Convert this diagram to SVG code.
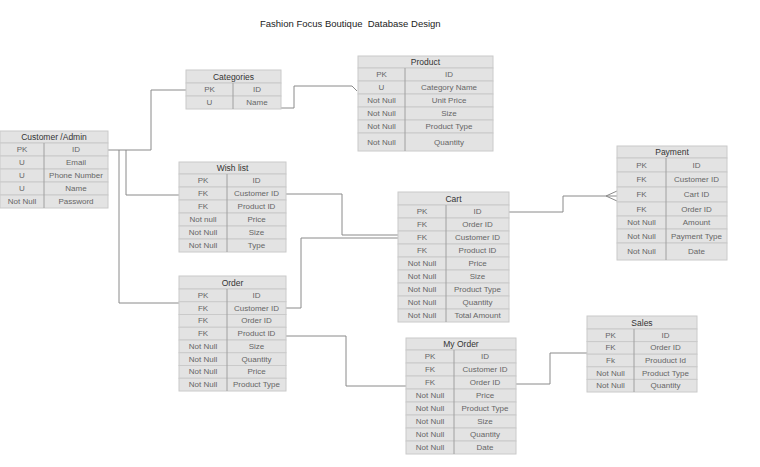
<svg xmlns="http://www.w3.org/2000/svg" width="760" height="467" viewBox="0 0 760 467">
<style>
.bg{fill:#e3e3e3;stroke:#cacaca;stroke-width:1}
.hd{fill:#e3e3e3;stroke:#cacaca;stroke-width:1}
.div{stroke:#a0a0a0;stroke-width:1}
.t{font-family:"Liberation Sans",Arial,sans-serif;font-size:8px;fill:#666;text-anchor:middle;dominant-baseline:central}
.h{font-family:"Liberation Sans",Arial,sans-serif;font-size:8.5px;fill:#333;text-anchor:middle;dominant-baseline:central}
.ttl{font-family:"Liberation Sans",Arial,sans-serif;font-size:9.5px;fill:#222;white-space:pre}
.c{fill:none;stroke:#8a8a8a;stroke-width:1}
</style>
<rect width="760" height="467" fill="#fff"/>
<text class="ttl" x="260" y="27" xml:space="preserve">Fashion Focus Boutique  Database Design</text>

<g id="connectors">
<path class="c" d="M108,150 H151 V90 H186"/>
<path class="c" d="M119,150 V303 H179"/>
<path class="c" d="M126,150 V195 H179"/>
<path class="c" d="M281,108 H294 V86 H352 L357,91"/>
<path class="c" d="M286,194 H342 V235 H398"/>
<path class="c" d="M286,308 H301 V238 H398"/>
<path class="c" d="M286,336 H346 V386 H406"/>
<path class="c" d="M516,384 H550 V353 H587"/>
<path class="c" d="M509,212 H563 V196 H617 M606,196 L617,191 M606,196 L617,201"/>
</g>

<g id="customer">
<rect class="hd" x="0" y="131" width="108" height="12"/>
<text class="h" x="54" y="137">Customer /Admin</text>
<rect class="bg" x="0" y="143" width="108" height="13"/>
<rect class="bg" x="0" y="156" width="108" height="13"/>
<rect class="bg" x="0" y="169" width="108" height="13"/>
<rect class="bg" x="0" y="182" width="108" height="13"/>
<rect class="bg" x="0" y="195" width="108" height="13"/>
<line class="div" x1="44" y1="143" x2="44" y2="208"/>
<text class="t" x="22" y="149.5">PK</text><text class="t" x="76" y="149.5">ID</text>
<text class="t" x="22" y="162.5">U</text><text class="t" x="76" y="162.5">Email</text>
<text class="t" x="22" y="175.5">U</text><text class="t" x="76" y="175.5">Phone Number</text>
<text class="t" x="22" y="188.5">U</text><text class="t" x="76" y="188.5">Name</text>
<text class="t" x="22" y="201.5">Not Null</text><text class="t" x="76" y="201.5">Password</text>
</g>

<g id="categories">
<rect class="hd" x="186" y="70" width="95" height="13"/>
<text class="h" x="233.5" y="76.5">Categories</text>
<rect class="bg" x="186" y="83" width="95" height="13"/>
<rect class="bg" x="186" y="96" width="95" height="13"/>
<line class="div" x1="233" y1="83" x2="233" y2="109"/>
<text class="t" x="209.5" y="89.5">PK</text><text class="t" x="257" y="89.5">ID</text>
<text class="t" x="209.5" y="102.5">U</text><text class="t" x="257" y="102.5">Name</text>
</g>

<g id="product">
<rect class="hd" x="358" y="56" width="135" height="12"/>
<text class="h" x="425.5" y="62">Product</text>
<rect class="bg" x="358" y="68" width="135" height="13"/>
<rect class="bg" x="358" y="81" width="135" height="13"/>
<rect class="bg" x="358" y="94" width="135" height="13"/>
<rect class="bg" x="358" y="107" width="135" height="13"/>
<rect class="bg" x="358" y="120" width="135" height="13"/>
<rect class="bg" x="358" y="133" width="135" height="18"/>
<line class="div" x1="405" y1="68" x2="405" y2="151"/>
<text class="t" x="381.5" y="74.5">PK</text><text class="t" x="449" y="74.5">ID</text>
<text class="t" x="381.5" y="87.5">U</text><text class="t" x="449" y="87.5">Category Name</text>
<text class="t" x="381.5" y="100.5">Not Null</text><text class="t" x="449" y="100.5">Unit Price</text>
<text class="t" x="381.5" y="113.5">Not Null</text><text class="t" x="449" y="113.5">Size</text>
<text class="t" x="381.5" y="126.5">Not Null</text><text class="t" x="449" y="126.5">Product Type</text>
<text class="t" x="381.5" y="142">Not Null</text><text class="t" x="449" y="142">Quantity</text>
</g>

<g id="wishlist">
<rect class="hd" x="179" y="162" width="107" height="12"/>
<text class="h" x="232.5" y="168">Wish list</text>
<rect class="bg" x="179" y="174" width="107" height="13"/>
<rect class="bg" x="179" y="187" width="107" height="13"/>
<rect class="bg" x="179" y="200" width="107" height="13"/>
<rect class="bg" x="179" y="213" width="107" height="13"/>
<rect class="bg" x="179" y="226" width="107" height="13"/>
<rect class="bg" x="179" y="239" width="107" height="13"/>
<line class="div" x1="227" y1="174" x2="227" y2="252"/>
<text class="t" x="203" y="180.5">PK</text><text class="t" x="256.5" y="180.5">ID</text>
<text class="t" x="203" y="193.5">FK</text><text class="t" x="256.5" y="193.5">Customer ID</text>
<text class="t" x="203" y="206.5">FK</text><text class="t" x="256.5" y="206.5">Product ID</text>
<text class="t" x="203" y="219.5">Not null</text><text class="t" x="256.5" y="219.5">Price</text>
<text class="t" x="203" y="232.5">Not Null</text><text class="t" x="256.5" y="232.5">Size</text>
<text class="t" x="203" y="245.5">Not Null</text><text class="t" x="256.5" y="245.5">Type</text>
</g>

<g id="cart">
<rect class="hd" x="398" y="192" width="111" height="13"/>
<text class="h" x="453.5" y="198.5">Cart</text>
<rect class="bg" x="398" y="205" width="111" height="13"/>
<rect class="bg" x="398" y="218" width="111" height="13"/>
<rect class="bg" x="398" y="231" width="111" height="13"/>
<rect class="bg" x="398" y="244" width="111" height="13"/>
<rect class="bg" x="398" y="257" width="111" height="13"/>
<rect class="bg" x="398" y="270" width="111" height="13"/>
<rect class="bg" x="398" y="283" width="111" height="13"/>
<rect class="bg" x="398" y="296" width="111" height="13"/>
<rect class="bg" x="398" y="309" width="111" height="13"/>
<line class="div" x1="446" y1="205" x2="446" y2="322"/>
<text class="t" x="422" y="211.5">PK</text><text class="t" x="477.5" y="211.5">ID</text>
<text class="t" x="422" y="224.5">FK</text><text class="t" x="477.5" y="224.5">Order ID</text>
<text class="t" x="422" y="237.5">FK</text><text class="t" x="477.5" y="237.5">Customer ID</text>
<text class="t" x="422" y="250.5">FK</text><text class="t" x="477.5" y="250.5">Product ID</text>
<text class="t" x="422" y="263.5">Not Null</text><text class="t" x="477.5" y="263.5">Price</text>
<text class="t" x="422" y="276.5">Not Null</text><text class="t" x="477.5" y="276.5">Size</text>
<text class="t" x="422" y="289.5">Not Null</text><text class="t" x="477.5" y="289.5">Product Type</text>
<text class="t" x="422" y="302.5">Not Null</text><text class="t" x="477.5" y="302.5">Quantity</text>
<text class="t" x="422" y="315.5">Not Null</text><text class="t" x="477.5" y="315.5">Total Amount</text>
</g>

<g id="payment">
<rect class="hd" x="617" y="146" width="110" height="12"/>
<text class="h" x="672" y="152">Payment</text>
<rect class="bg" x="617" y="158" width="110" height="14"/>
<rect class="bg" x="617" y="172" width="110" height="15"/>
<rect class="bg" x="617" y="187" width="110" height="15"/>
<rect class="bg" x="617" y="202" width="110" height="14"/>
<rect class="bg" x="617" y="216" width="110" height="13"/>
<rect class="bg" x="617" y="229" width="110" height="14"/>
<rect class="bg" x="617" y="243" width="110" height="17"/>
<line class="div" x1="666" y1="158" x2="666" y2="260"/>
<text class="t" x="641.5" y="165">PK</text><text class="t" x="696.5" y="165">ID</text>
<text class="t" x="641.5" y="179.5">FK</text><text class="t" x="696.5" y="179.5">Customer ID</text>
<text class="t" x="641.5" y="194.5">FK</text><text class="t" x="696.5" y="194.5">Cart ID</text>
<text class="t" x="641.5" y="209">FK</text><text class="t" x="696.5" y="209">Order ID</text>
<text class="t" x="641.5" y="222.5">Not Null</text><text class="t" x="696.5" y="222.5">Amount</text>
<text class="t" x="641.5" y="236">Not Null</text><text class="t" x="696.5" y="236">Payment Type</text>
<text class="t" x="641.5" y="251.5">Not Null</text><text class="t" x="696.5" y="251.5">Date</text>
</g>

<g id="order">
<rect class="hd" x="179" y="276" width="107" height="13"/>
<text class="h" x="232.5" y="282.5">Order</text>
<rect class="bg" x="179" y="289" width="107" height="12.75"/>
<rect class="bg" x="179" y="301.75" width="107" height="12.75"/>
<rect class="bg" x="179" y="314.5" width="107" height="12.75"/>
<rect class="bg" x="179" y="327.25" width="107" height="12.75"/>
<rect class="bg" x="179" y="340" width="107" height="12.75"/>
<rect class="bg" x="179" y="352.75" width="107" height="12.75"/>
<rect class="bg" x="179" y="365.5" width="107" height="12.75"/>
<rect class="bg" x="179" y="378.25" width="107" height="12.75"/>
<line class="div" x1="227" y1="289" x2="227" y2="391"/>
<text class="t" x="203" y="295.4">PK</text><text class="t" x="256.5" y="295.4">ID</text>
<text class="t" x="203" y="308.1">FK</text><text class="t" x="256.5" y="308.1">Customer ID</text>
<text class="t" x="203" y="320.9">FK</text><text class="t" x="256.5" y="320.9">Order ID</text>
<text class="t" x="203" y="333.6">FK</text><text class="t" x="256.5" y="333.6">Product ID</text>
<text class="t" x="203" y="346.4">Not Null</text><text class="t" x="256.5" y="346.4">Size</text>
<text class="t" x="203" y="359.1">Not Null</text><text class="t" x="256.5" y="359.1">Quantity</text>
<text class="t" x="203" y="371.9">Not Null</text><text class="t" x="256.5" y="371.9">Price</text>
<text class="t" x="203" y="384.6">Not Null</text><text class="t" x="256.5" y="384.6">Product Type</text>
</g>

<g id="myorder">
<rect class="hd" x="406" y="338" width="110" height="12"/>
<text class="h" x="461" y="344">My Order</text>
<rect class="bg" x="406" y="350" width="110" height="13"/>
<rect class="bg" x="406" y="363" width="110" height="13"/>
<rect class="bg" x="406" y="376" width="110" height="13"/>
<rect class="bg" x="406" y="389" width="110" height="13"/>
<rect class="bg" x="406" y="402" width="110" height="13"/>
<rect class="bg" x="406" y="415" width="110" height="13"/>
<rect class="bg" x="406" y="428" width="110" height="13"/>
<rect class="bg" x="406" y="441" width="110" height="13"/>
<line class="div" x1="454" y1="350" x2="454" y2="454"/>
<text class="t" x="430" y="356.5">PK</text><text class="t" x="485" y="356.5">ID</text>
<text class="t" x="430" y="369.5">FK</text><text class="t" x="485" y="369.5">Customer ID</text>
<text class="t" x="430" y="382.5">FK</text><text class="t" x="485" y="382.5">Order ID</text>
<text class="t" x="430" y="395.5">Not Null</text><text class="t" x="485" y="395.5">Price</text>
<text class="t" x="430" y="408.5">Not Null</text><text class="t" x="485" y="408.5">Product Type</text>
<text class="t" x="430" y="421.5">Not Null</text><text class="t" x="485" y="421.5">Size</text>
<text class="t" x="430" y="434.5">Not Null</text><text class="t" x="485" y="434.5">Quantity</text>
<text class="t" x="430" y="447.5">Not Null</text><text class="t" x="485" y="447.5">Date</text>
</g>

<g id="sales">
<rect class="hd" x="587" y="316" width="110" height="13"/>
<text class="h" x="642" y="322.5">Sales</text>
<rect class="bg" x="587" y="329" width="110" height="12.6"/>
<rect class="bg" x="587" y="341.6" width="110" height="12.6"/>
<rect class="bg" x="587" y="354.2" width="110" height="12.6"/>
<rect class="bg" x="587" y="366.8" width="110" height="12.6"/>
<rect class="bg" x="587" y="379.4" width="110" height="12.6"/>
<line class="div" x1="634" y1="329" x2="634" y2="392"/>
<text class="t" x="610.5" y="335.3">PK</text><text class="t" x="665.5" y="335.3">ID</text>
<text class="t" x="610.5" y="347.9">FK</text><text class="t" x="665.5" y="347.9">Order ID</text>
<text class="t" x="610.5" y="360.5">Fk</text><text class="t" x="665.5" y="360.5">Prouduct Id</text>
<text class="t" x="610.5" y="373.1">Not Null</text><text class="t" x="665.5" y="373.1">Product Type</text>
<text class="t" x="610.5" y="385.7">Not Null</text><text class="t" x="665.5" y="385.7">Quantity</text>
</g>
</svg>
